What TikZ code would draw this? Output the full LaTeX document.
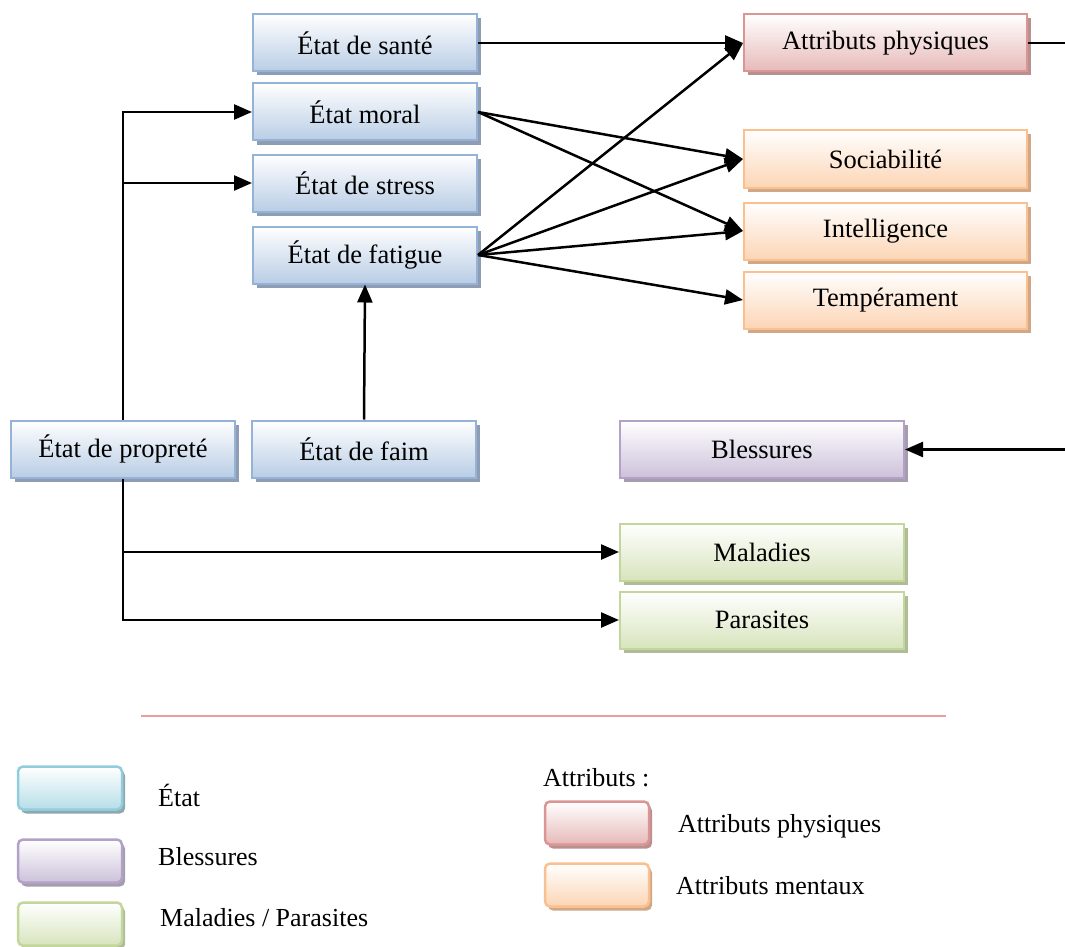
\documentclass[tikz,border=0pt]{standalone}
\usepackage{fontspec}
\setmainfont{Liberation Serif}
\usetikzlibrary{arrows.meta,shadows}
\definecolor{bluebd}{HTML}{95B3D7}\definecolor{bluebt}{HTML}{B9CDE5}\definecolor{bluesh}{HTML}{8E9DB3}
\definecolor{redbd}{HTML}{D99694}\definecolor{redbt}{HTML}{E6B9B8}\definecolor{redsh}{HTML}{B89090}
\definecolor{orbd}{HTML}{FAC090}\definecolor{orbt}{HTML}{FCD5B5}\definecolor{orsh}{HTML}{D0A888}
\definecolor{pubd}{HTML}{B3A2C7}\definecolor{pubt}{HTML}{CCC1DA}\definecolor{push}{HTML}{A59CB0}
\definecolor{grbd}{HTML}{C3D69B}\definecolor{grbt}{HTML}{D7E4BD}\definecolor{grsh}{HTML}{B0BC98}
\definecolor{cybd}{HTML}{93CDDD}\definecolor{cybt}{HTML}{B7DEE8}\definecolor{cysh}{HTML}{8EA8B0}
\definecolor{sepline}{HTML}{E6A0A0}
\tikzset{
  boxbase/.style={draw, line width=2pt, minimum width=224pt, minimum height=57pt, inner sep=0pt,
    font=\fontsize{26.5}{30}\selectfont, top color=white},
  bluebox/.style={boxbase, draw=bluebd, bottom color=bluebt, drop shadow={shadow xshift=4pt, shadow yshift=-4pt, fill=bluesh, opacity=1}},
  redbox/.style={boxbase, minimum width=283pt, draw=redbd, bottom color=redbt, drop shadow={shadow xshift=4pt, shadow yshift=-4pt, fill=redsh, opacity=1}},
  orbox/.style={boxbase, minimum width=283pt, draw=orbd, bottom color=orbt, drop shadow={shadow xshift=4pt, shadow yshift=-4pt, fill=orsh, opacity=1}},
  pubox/.style={boxbase, minimum width=284pt, draw=pubd, bottom color=pubt, drop shadow={shadow xshift=4pt, shadow yshift=-4pt, fill=push, opacity=1}},
  grbox/.style={boxbase, minimum width=284pt, draw=grbd, bottom color=grbt, drop shadow={shadow xshift=4pt, shadow yshift=-4pt, fill=grsh, opacity=1}},
  legbox/.style={draw, line width=2.5pt, rounded corners=5pt, minimum width=104pt, minimum height=43pt, inner sep=0pt, top color=white},
  legtext/.style={anchor=west, font=\fontsize{26}{30}\selectfont, inner sep=0pt},
  arr/.style={line width=2.5pt, -{Triangle[length=18pt,width=15pt]}},
  ln/.style={line width=2.5pt},
}
\begin{document}
\begin{tikzpicture}[x=1pt,y=-1pt]
\useasboundingbox (0,0) rectangle (1065,947);
% States
\node[bluebox] (sante) at (365,43) {État de santé};
\node[bluebox] (moral) at (365,112) {État moral};
\node[bluebox] (stress) at (365,183) {État de stress};
\node[bluebox] (fatigue) at (365,255) {État de fatigue};
\node[bluebox] (proprete) at (123,449) {État de propreté};
\node[bluebox] (faim) at (364,449) {État de faim};
% Attributes
\node[redbox] (attphys) at (885.5,43) {Attributs physiques};
\node[orbox] (sociab) at (885.5,159) {Sociabilité};
\node[orbox] (intel) at (885.5,231) {Intelligence};
\node[orbox] (temper) at (885.5,300) {Tempérament};
% Injuries / diseases
\node[pubox] (blessures) at (762,449.5) {Blessures};
\node[grbox] (maladies) at (762,552) {Maladies};
\node[grbox] (parasites) at (762,620) {Parasites};
% Off-picture ends
\coordinate (offA) at (1065,43);
\coordinate (offB) at (1065,449.5);
% Connectors
\draw[arr] (sante.east) -- (attphys.west);
\draw[ln] (attphys.east) -- (offA);
\draw[arr] (offB) -- (blessures.east);
\draw[arr] (moral.east) -- (sociab.west);
\draw[arr] (moral.east) -- (intel.west);
\draw[arr] (fatigue.east) -- (attphys.west);
\draw[arr] (fatigue.east) -- (sociab.west);
\draw[arr] (fatigue.east) -- (intel.west);
\draw[arr] (fatigue.east) -- (temper.west);
\draw[arr] (faim.north) -- (fatigue.south);
\draw[arr] (proprete.north) |- (moral.west);
\draw[arr] (proprete.north) |- (stress.west);
\draw[arr] (proprete.south) |- (maladies.west);
\draw[arr] (proprete.south) |- (parasites.west);
% Separator
\coordinate (sepL) at (141,716);
\coordinate (sepR) at (946,716);
\draw[sepline, line width=1.5pt] (sepL) -- (sepR);
% Legend
\node[legbox, draw=cybd, bottom color=cybt, drop shadow={shadow xshift=3pt, shadow yshift=-4pt, fill=cysh, opacity=1}] (legetat) at (70,788) {};
\node[legtext] (tetat) at (158,795) {État};
\node[legbox, draw=pubd, bottom color=pubt, drop shadow={shadow xshift=3pt, shadow yshift=-4pt, fill=push, opacity=1}] (legbless) at (70,861) {};
\node[legtext] (tbless) at (158,857) {Blessures};
\node[legbox, draw=grbd, bottom color=grbt, drop shadow={shadow xshift=3pt, shadow yshift=-4pt, fill=grsh, opacity=1}] (legmal) at (70,924) {};
\node[legtext] (tmal) at (160,918) {Maladies / Parasites};
\node[legtext] (tattr) at (543,778) {Attributs :};
\node[legbox, draw=redbd, bottom color=redbt, drop shadow={shadow xshift=3pt, shadow yshift=-4pt, fill=redsh, opacity=1}] (legphys) at (597,823) {};
\node[legtext] (tphys) at (678,826) {Attributs physiques};
\node[legbox, draw=orbd, bottom color=orbt, drop shadow={shadow xshift=3pt, shadow yshift=-4pt, fill=orsh, opacity=1}] (legment) at (597,885) {};
\node[legtext] (tment) at (676,886) {Attributs mentaux};
\end{tikzpicture}
\end{document}
